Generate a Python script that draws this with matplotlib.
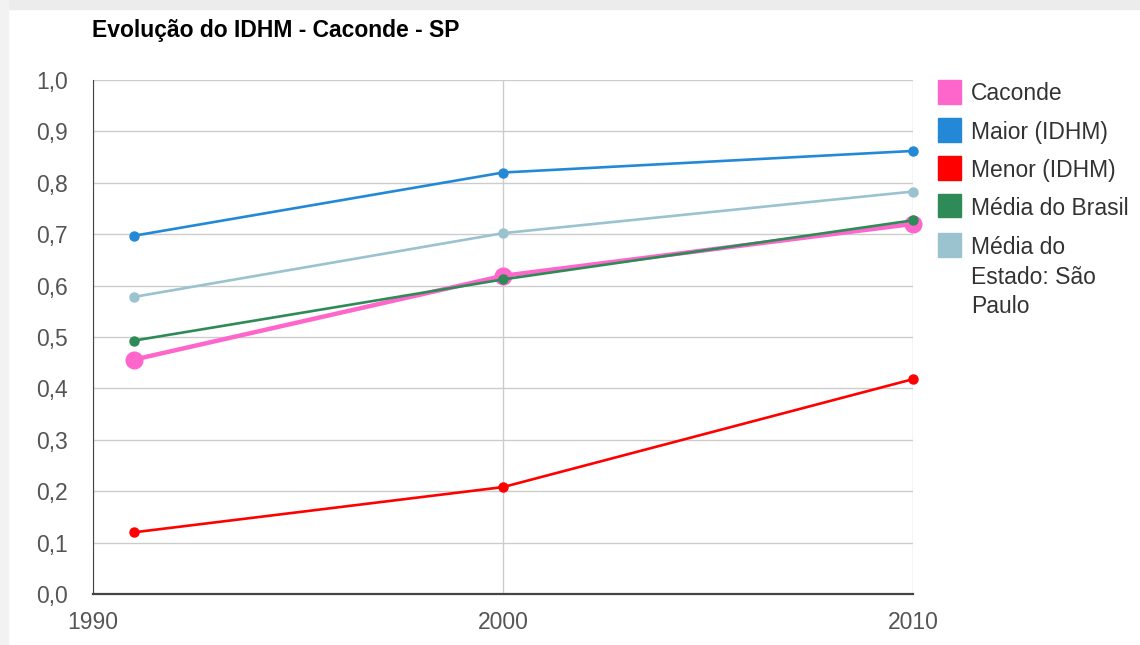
import numpy as np
import matplotlib
matplotlib.use("Agg")
import matplotlib.pyplot as plt
from matplotlib.patches import Rectangle

plt.rcParams['font.family'] = ['Liberation Sans', 'DejaVu Sans']

years = [1991, 2000, 2010]
series_names = ["Caconde", "Maior (IDHM)", "Menor (IDHM)", "Média do Brasil",
                "Média do\nEstado: São\nPaulo"]
caconde = [0.456, 0.619, 0.720]
maior = [0.697, 0.820, 0.862]
menor = [0.120, 0.208, 0.418]
brasil = [0.493, 0.612, 0.727]
sao_paulo = [0.578, 0.702, 0.783]
x_ticks = [1990, 2000, 2010]
y_ticks = np.arange(0, 1.01, 0.1)

colors = ["#ff66cc", "#2389d6", "#ff0000", "#2e8b57", "#9bc2cf"]
values = [caconde, maior, menor, brasil, sao_paulo]

W, H = 1140, 645
fig = plt.figure(figsize=(W / 100, H / 100), dpi=100)
fig.patch.set_facecolor("white")

# light shadow frame like the screenshot
fig.patches.append(Rectangle((0, 1 - 9 / H), 1, 9 / H, transform=fig.transFigure,
                             color="#ececec", zorder=-5))
fig.patches.append(Rectangle((0, 0), 8 / W, 1, transform=fig.transFigure,
                             color="#f2f2f2", zorder=-5))

ax = fig.add_axes([93 / W, 51 / H, 820 / W, 514 / H])

for k, (vals, col) in enumerate(zip(values, colors)):
    if k == 0:
        ax.plot(years, vals, color=col, lw=3.2, marker='o', ms=12, zorder=2, clip_on=False)
    else:
        ax.plot(years, vals, color=col, lw=1.9, marker='o', ms=6.5, zorder=3, clip_on=False)

ax.set_xlim(1990, 2010)
ax.set_ylim(0, 1.0)
ax.set_xticks(x_ticks)
ax.set_xticklabels([str(x) for x in x_ticks])
ax.set_yticks(y_ticks)
ax.set_yticklabels([f"{v:.1f}".replace(".", ",") for v in y_ticks])
ax.tick_params(length=0, labelsize=16.5, colors="#555555")
ax.tick_params(axis='y', pad=18)
ax.tick_params(axis='x', pad=12)
ax.grid(True, color="#cccccc", lw=1)
ax.set_axisbelow(True)
for s in ["top", "right"]:
    ax.spines[s].set_visible(False)
ax.spines["left"].set_color("#444444")
ax.spines["bottom"].set_color("#444444")
ax.spines["bottom"].set_linewidth(1.6)

fig.text(92 / W, 1 - 37 / H, "Evolução do IDHM - Caconde - SP",
         fontsize=16.5, fontweight="bold", va="baseline", ha="left", color="#000000")

# legend drawn by hand to mimic the wrapped last entry
leg_y = [92, 130, 168, 206, 245]
for name, col, yy in zip(series_names, colors, leg_y):
    fig.patches.append(Rectangle((938 / W, 1 - (yy + 11.5) / H), 23 / W, 23 / H,
                                 transform=fig.transFigure, color=col))
    for j, line in enumerate(name.split("\n")):
        fig.text(971 / W, 1 - (yy + 8.5 + 30 * j) / H, line, fontsize=16.5,
                 color="#333333", va="baseline", ha="left")

fig.savefig("out.png", dpi=100)
